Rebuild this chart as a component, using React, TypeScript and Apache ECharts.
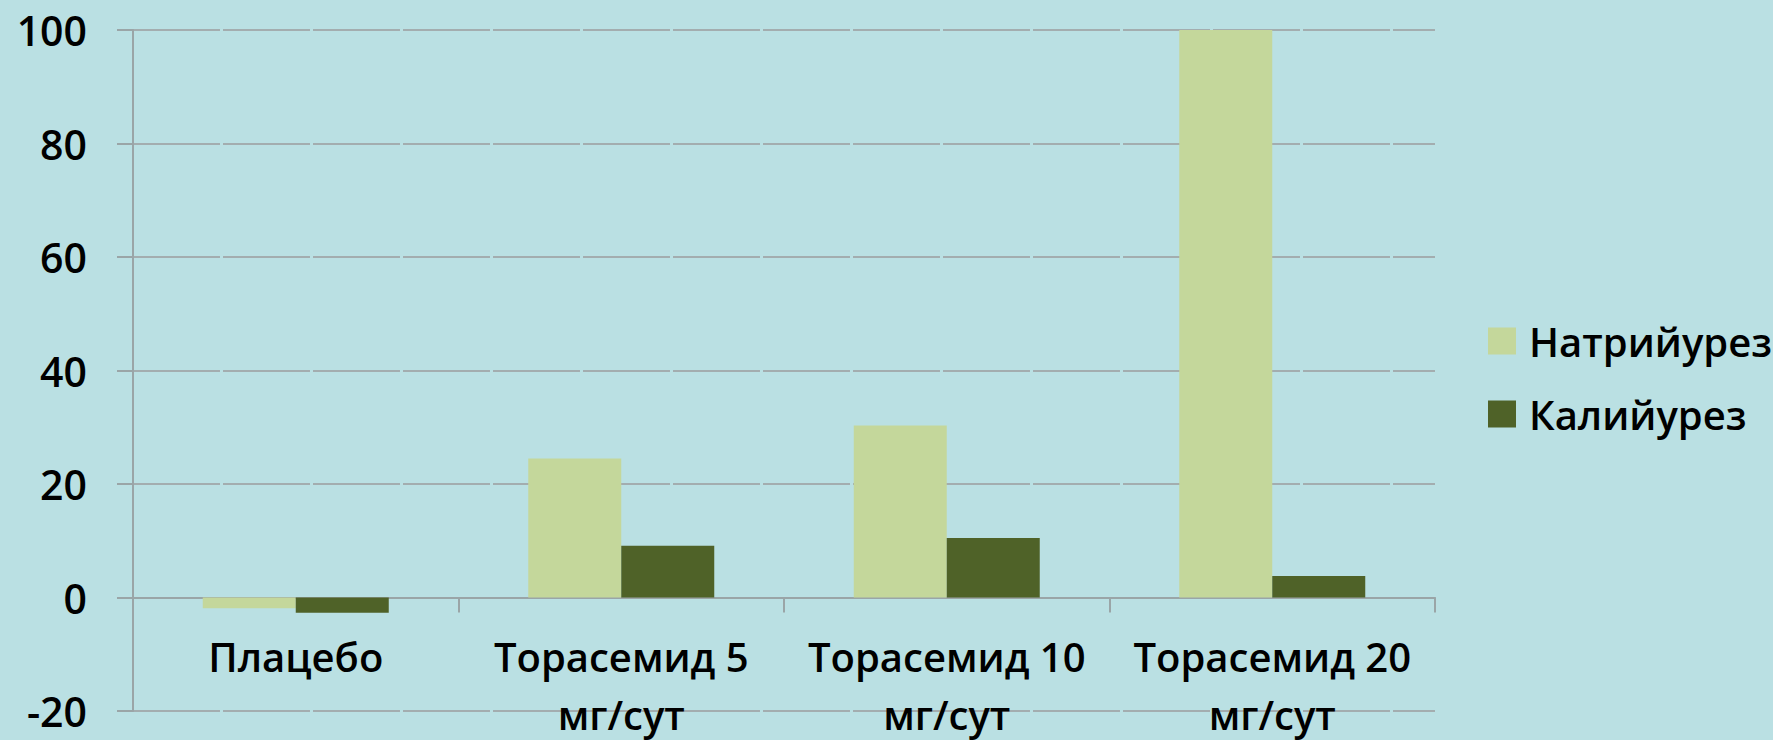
import React, { useEffect, useRef } from "react";
import * as echarts from "echarts";

// Диуретический эффект торасемида: натрийурез и калийурез по группам
const categories = [
  "Плацебо",
  "Торасемид 5\nмг/сут",
  "Торасемид 10\nмг/сут",
  "Торасемид 20\nмг/сут",
];
const natriuresis = [-1.9, 24.5, 30.3, 100];
const kaliuresis = [-2.7, 9.1, 10.5, 3.8];
const yTicks = { min: -20, max: 100, interval: 20 };

const FONT = "'Open Sans', 'Noto Sans', sans-serif";
const AXIS_GREY = "#9aa5a7";

export default function App() {
  const ref = useRef<HTMLDivElement>(null);

  useEffect(() => {
    if (!ref.current) return;
    const chart = echarts.init(ref.current, undefined, { renderer: "svg" });
    chart.setOption({
      animation: false,
      backgroundColor: "#BAE0E3",
      textStyle: { fontFamily: FONT },
      grid: {
        left: 133,
        right: 338,
        top: 30,
        bottom: 29,
        containLabel: false,
        outerBoundsMode: "none",
      },
      legend: {
        orient: "vertical",
        left: 1483,
        top: 316,
        icon: "rect",
        itemWidth: 28,
        itemHeight: 27,
        itemGap: 33,
        textStyle: {
          fontFamily: FONT,
          fontSize: 40,
          fontWeight: 600,
          color: "#000",
          lineHeight: 40,
          padding: [0, 0, 0, 8],
        },
        data: ["Натрийурез", "Калийурез"],
      },
      xAxis: {
        type: "category",
        data: categories,
        axisLine: { onZero: true, lineStyle: { color: AXIS_GREY, width: 2 } },
        axisTick: { show: true, length: 15, lineStyle: { color: AXIS_GREY, width: 2 } },
        axisLabel: {
          interval: 0,
          // labels sit just under the zero line, above the grid's lower edge
          margin: -84,
          fontFamily: FONT,
          fontSize: 40,
          fontWeight: 600,
          lineHeight: 58,
          color: "#000",
        },
      },
      yAxis: {
        type: "value",
        min: yTicks.min,
        max: yTicks.max,
        interval: yTicks.interval,
        axisLine: { show: true, lineStyle: { color: AXIS_GREY, width: 2 } },
        axisTick: { show: true, length: 16, lineStyle: { color: AXIS_GREY, width: 2 } },
        axisLabel: {
          margin: 46,
          fontFamily: FONT,
          fontSize: 41,
          fontWeight: 600,
          color: "#000",
        },
        splitLine: {
          show: true,
          lineStyle: { color: "#a3adaf", width: 2, type: [87, 3] },
        },
      },
      series: [
        {
          name: "Натрийурез",
          type: "bar",
          data: natriuresis,
          barWidth: 93,
          barGap: "0%",
          itemStyle: { color: "#C4D79B" },
        },
        {
          name: "Калийурез",
          type: "bar",
          data: kaliuresis,
          barWidth: 93,
          barGap: "0%",
          itemStyle: { color: "#4F6228" },
        },
      ],
    });
    return () => chart.dispose();
  }, []);

  return (
    <div
      ref={ref}
      style={{ position: "fixed", left: 0, top: 0, width: 1773, height: 740 }}
    />
  );
}
